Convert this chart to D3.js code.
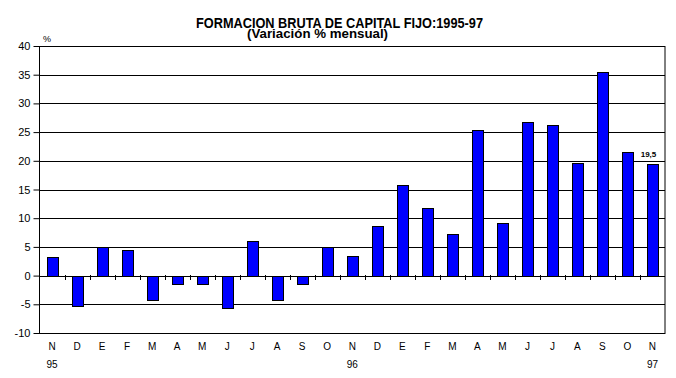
<!DOCTYPE html>
<html>
<head>
<meta charset="utf-8">
<script src="https://cdn.jsdelivr.net/npm/d3@7"></script>
<style>
  body { margin: 0; background: #fff; }
  svg { display: block; }
</style>
</head>
<body>
<svg id="chart"></svg>
<script>
// months Nov-95 .. Nov-97
const months = ["N", "D", "E", "F", "M", "A", "M", "J", "J", "A", "S", "O",
  "N", "D", "E", "F", "M", "A", "M", "J", "J", "A", "S", "O", "N"];
const years = [{ i: 0, label: "95" }, { i: 12, label: "96" }, { i: 24, label: "97" }];
const values = [3.2, -5.3, 5.0, 4.4, -4.2, -1.5, -1.5, -5.6, 6.1, -4.2, -1.5, 5.0,
  3.4, 8.7, 15.7, 11.8, 7.2, 25.3, 9.2, 26.7, 26.3, 19.7, 35.4, 21.6, 19.5];
const yTicks = [-10, -5, 0, 5, 10, 15, 20, 25, 30, 35, 40];
const lastLabel = "19,5";

const width = 676, height = 378;
const plotLeft = 39.5, plotRight = 665, plotTop = 46, plotBottom = 333;

const svg = d3.select("#chart").attr("width", width).attr("height", height);
svg.append("rect").attr("width", width).attr("height", height).attr("fill", "#fff");

const keys = months.map((m, i) => i);
const x = d3.scaleBand().domain(keys).range([plotLeft, plotRight]).paddingInner(0.58).paddingOuter(0.29);
const y = d3.scaleLinear().domain([-10, 40]).range([plotBottom, plotTop]);

// title
svg.append("text")
  .attr("x", 339.5).attr("y", 28)
  .attr("text-anchor", "middle")
  .style("font-family", "'Liberation Sans Narrow', 'Arial Narrow', sans-serif")
  .style("font-weight", "bold").style("font-size", "14px")
  .attr("textLength", 287).attr("lengthAdjust", "spacingAndGlyphs")
  .text("FORMACION BRUTA DE CAPITAL FIJO:1995-97");
svg.append("text")
  .attr("x", 317.5).attr("y", 37.5)
  .attr("text-anchor", "middle")
  .style("font-family", "'Liberation Sans Narrow', 'Arial Narrow', sans-serif")
  .style("font-weight", "bold").style("font-size", "12.5px")
  .attr("textLength", 141).attr("lengthAdjust", "spacingAndGlyphs")
  .text("(Variación % mensual)");

// gridlines
svg.append("g")
  .selectAll("line")
  .data(yTicks)
  .join("line")
  .attr("x1", plotLeft).attr("x2", plotRight)
  .attr("y1", d => Math.round(y(d)) + 0.5).attr("y2", d => Math.round(y(d)) + 0.5)
  .attr("stroke", "#000").attr("stroke-width", 1);

// y axis
const yAxis = svg.append("g")
  .attr("transform", `translate(${plotLeft},0)`)
  .call(d3.axisLeft(y).tickValues(yTicks).tickSize(6).tickPadding(3).tickFormat(d => d)
    .offset(0.5));
yAxis.selectAll("text")
  .style("font-family", "'Liberation Sans', Arial, sans-serif").style("font-size", "11px")
  .attr("fill", "#000");
yAxis.selectAll("line").attr("stroke", "#000");
yAxis.select(".domain").remove();

svg.append("text")
  .attr("x", 43).attr("y", 42)
  .style("font-family", "'Liberation Sans', Arial, sans-serif").style("font-size", "9px")
  .text("%");

// bars
svg.append("g")
  .selectAll("rect")
  .data(values)
  .join("rect")
  .attr("x", (d, i) => Math.round(x(i)) + 0.5)
  .attr("width", Math.round(x.bandwidth()))
  .attr("y", d => Math.round(y(Math.max(0, d))) + 0.5)
  .attr("height", d => Math.abs(Math.round(y(d)) - Math.round(y(0))))
  .attr("fill", "#0000ff")
  .attr("stroke", "#000")
  .attr("stroke-width", 1);

// zero-line ticks between categories
const step = x.step();
svg.append("g")
  .selectAll("line")
  .data(keys.slice(1))
  .join("line")
  .attr("x1", i => Math.round(plotLeft + i * step) + 0.5)
  .attr("x2", i => Math.round(plotLeft + i * step) + 0.5)
  .attr("y1", Math.round(y(0)) - 1)
  .attr("y2", Math.round(y(0)) + 4)
  .attr("stroke", "#000");

// plot border
svg.append("rect")
  .attr("x", plotLeft).attr("y", Math.round(y(40)) + 0.5)
  .attr("width", plotRight - plotLeft).attr("height", Math.round(y(-10)) - Math.round(y(40)))
  .attr("fill", "none").attr("stroke", "#000");

// category labels
svg.append("g")
  .selectAll("text")
  .data(months)
  .join("text")
  .attr("x", (d, i) => x(i) + x.bandwidth() / 2)
  .attr("y", 350)
  .attr("text-anchor", "middle")
  .style("font-family", "'Liberation Sans', Arial, sans-serif").style("font-size", "10px")
  .text(d => d);

svg.append("g")
  .selectAll("text")
  .data(years)
  .join("text")
  .attr("x", d => x(d.i) + x.bandwidth() / 2)
  .attr("y", 368)
  .attr("text-anchor", "middle")
  .style("font-family", "'Liberation Sans', Arial, sans-serif").style("font-size", "10px")
  .text(d => d.label);

// data label on the last bar
const li = values.length - 1;
svg.append("text")
  .attr("x", x(li) + x.bandwidth() / 2 - 4)
  .attr("y", y(values[li]) - 7)
  .attr("text-anchor", "middle")
  .style("font-family", "'Liberation Sans', Arial, sans-serif")
  .style("font-weight", "bold").style("font-size", "8px")
  .text(lastLabel);
</script>
</body>
</html>
